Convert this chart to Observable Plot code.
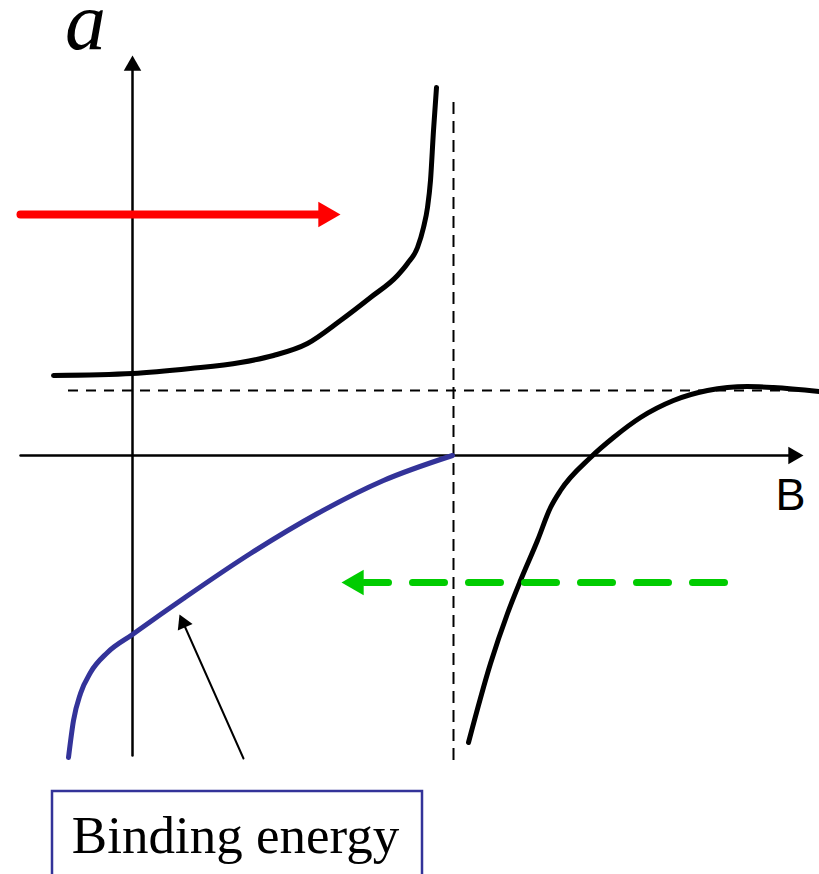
<!DOCTYPE html>
<html>
<head>
<meta charset="utf-8">
<script src="https://cdn.jsdelivr.net/npm/d3@7"></script>
<script src="https://cdn.jsdelivr.net/npm/@observablehq/plot@0.6"></script>
<style>
  html, body { margin: 0; padding: 0; background: #fff; overflow: hidden; }
  #chart svg { display: block; }
</style>
</head>
<body>
<div id="chart"></div>
<script>
// Scattering length a versus magnetic field B across a Feshbach resonance
// (schematic units: the resonance sits at B0, the background value is a_bg).

const resonanceB = 3.21;
const backgroundA = 0.65;

// branch below the resonance (a grows and diverges as B -> B0)
const upperB = [-0.79, 0.00, 0.58, 1.08, 1.41, 1.75, 2.08, 2.38, 2.65, 2.75, 2.85, 2.91, 2.95, 2.98, 3.01, 3.04];
const upperA = [0.80, 0.82, 0.87, 0.93, 1.00, 1.12, 1.35, 1.58, 1.80, 1.92, 2.08, 2.28, 2.48, 2.75, 3.25, 3.68];

// branch above the resonance (a comes up from -inf back to a_bg)
const lowerB = [3.36, 3.58, 3.75, 3.88, 4.05, 4.18, 4.28, 4.58, 4.81, 5.08, 5.41, 5.75, 6.15, 6.41, 6.87];
const lowerA = [-2.87, -2.08, -1.58, -1.25, -0.85, -0.52, -0.35, -0.02, 0.18, 0.38, 0.55, 0.65, 0.69, 0.68, 0.64];

// molecular binding energy, vanishing at the resonance
const bindingB = [-0.64, -0.59, -0.52, -0.42, -0.25, 0.00, 0.28, 0.51, 1.18, 1.85, 2.51, 3.20];
const bindingE = [-3.02, -2.65, -2.38, -2.17, -1.97, -1.79, -1.59, -1.43, -0.98, -0.58, -0.25, 0.00];

// axes: start, shaft end, tip
const axisBRange = [-1.12, 6.60, 6.71];
const axisARange = [-3.00, 3.90, 4.00];

// sweep arrows: [B start, B shaft end, B tip], level
const sweepUpB = [-1.12, 1.95, 2.08];
const sweepUpLevel = 2.41;
const sweepDownB = [5.92, 2.32, 2.09];
const sweepDownLevel = -1.27;

// pointer from the caption to the binding-energy curve: start, shaft end, tip
const pointerB = [1.11, 0.51, 0.47];
const pointerA = [-3.03, -1.68, -1.59];

// guide lines
const resonanceSpan = [3.53, -3.05];
const backgroundSpan = [-0.64, 6.87];

// labels
const aLabel = "a";
const bLabel = "B";
const captionText = "Binding energy";
const aLabelPos = [-0.47, 4.07];
const bLabelPos = [6.58, -0.54];
const captionPos = [1.03, -3.97];
const captionBox = [-0.80, 2.90, -3.36, -4.30];

// filled triangular arrowhead whose tip lies on (x, y); angle clockwise from up
function head(x, y, r, angle, fill) {
  const k = 2 * Math.sqrt(Math.PI / (3 * Math.sqrt(3))) * r;
  const t = angle * Math.PI / 180;
  return Plot.dot([0], {
    x: x, y: y, r: r, symbol: "triangle", rotate: angle,
    fill: fill, stroke: "none",
    dx: -k * Math.sin(t), dy: k * Math.cos(t)
  });
}

const chart = Plot.plot({
  width: 819,
  height: 874,
  margin: 0,
  x: {domain: [-1.32, 6.87], axis: null},
  y: {domain: [-4.19, 4.55], axis: null},
  style: {background: "white", overflow: "hidden"},
  marks: [
    // axes
    Plot.line([0, 1], {x: [axisBRange[0], axisBRange[1]], y: [0, 0], stroke: "black", strokeWidth: 2.5}),
    head(axisBRange[2], 0, 6.5, 90, "black"),
    Plot.line([0, 1], {x: [0, 0], y: [axisARange[0], axisARange[1]], stroke: "black", strokeWidth: 2.5}),
    head(0, axisARange[2], 6.5, 0, "black"),

    // resonance position and background scattering length
    Plot.ruleX([resonanceB], {y1: resonanceSpan[0], y2: resonanceSpan[1], stroke: "black", strokeWidth: 2, strokeDasharray: "12,7"}),

    // scattering length branches
    Plot.line(upperB, {x: upperB, y: upperA, curve: "monotone-x", stroke: "black", strokeWidth: 5}),
    Plot.line(lowerB, {x: lowerB, y: lowerA, curve: "monotone-x", stroke: "black", strokeWidth: 5}),
    Plot.ruleY([backgroundA], {x1: backgroundSpan[0], x2: backgroundSpan[1], stroke: "black", strokeWidth: 2, strokeDasharray: "10,8"}),

    // binding energy
    Plot.line(bindingB, {x: bindingB, y: bindingE, curve: "monotone-x", stroke: "#333399", strokeWidth: 5}),

    // field sweeps
    Plot.line([0, 1], {x: [sweepUpB[0], sweepUpB[1]], y: [sweepUpLevel, sweepUpLevel], stroke: "#ff0000", strokeWidth: 8}),
    head(sweepUpB[2], sweepUpLevel, 9.5, 90, "#ff0000"),
    Plot.line([0, 1], {x: [sweepDownB[0], sweepDownB[1]], y: [sweepDownLevel, sweepDownLevel], stroke: "#00cc00", strokeWidth: 7, strokeDasharray: "32,24"}),
    head(sweepDownB[2], sweepDownLevel, 9.5, -90, "#00cc00"),

    // pointer to the binding-energy curve
    Plot.line([0, 1], {x: [pointerB[0], pointerB[1]], y: [pointerA[0], pointerA[1]], stroke: "black", strokeWidth: 2}),
    head(pointerB[2], pointerA[2], 6, -24, "black"),

    // caption box
    Plot.rect([0], {x1: captionBox[0], x2: captionBox[1], y1: captionBox[2], y2: captionBox[3], fill: "white", stroke: "#333399", strokeWidth: 2.5}),
    Plot.text([captionText], {x: captionPos[0], y: captionPos[1], text: d => d, lineAnchor: "bottom", textAnchor: "middle",
      fontFamily: "'Liberation Serif', 'Times New Roman', serif", fontSize: 53, fill: "black"}),

    // axis labels
    Plot.text([aLabel], {x: aLabelPos[0], y: aLabelPos[1], text: d => d, lineAnchor: "bottom", textAnchor: "middle",
      fontFamily: "'Liberation Serif', 'Times New Roman', serif", fontStyle: "italic", fontSize: 82, fill: "black"}),
    Plot.text([bLabel], {x: bLabelPos[0], y: bLabelPos[1], text: d => d, lineAnchor: "bottom", textAnchor: "middle",
      fontFamily: "'Liberation Sans', Arial, sans-serif", fontSize: 45, fill: "black"})
  ]
});

document.getElementById("chart").appendChild(chart);
</script>
</body>
</html>
